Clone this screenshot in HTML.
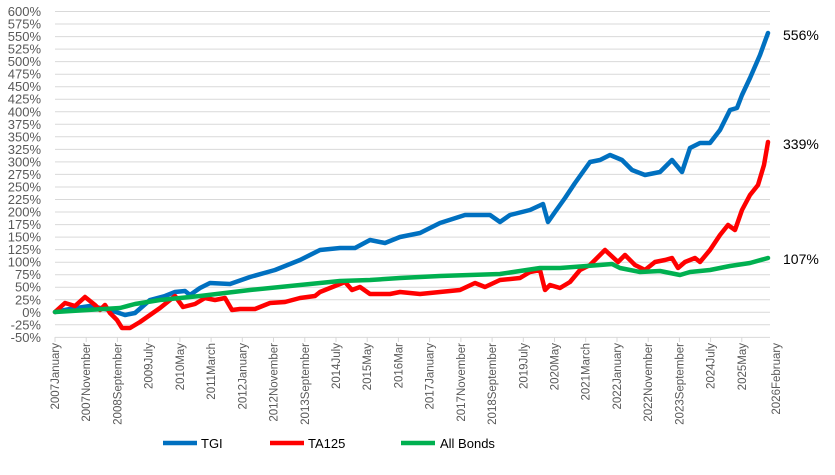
<!DOCTYPE html>
<html><head><meta charset="utf-8"><style>
body{margin:0;background:#fff;}
svg{display:block;font-family:"Liberation Sans",sans-serif;}
</style></head><body>
<svg width="835" height="475" viewBox="0 0 835 475">
<g stroke="#d9d9d9" stroke-width="1">
<line x1="55" x2="770" y1="11.5" y2="11.5"/><line x1="55" x2="770" y1="24" y2="24"/><line x1="55" x2="770" y1="36.6" y2="36.6"/><line x1="55" x2="770" y1="49.1" y2="49.1"/><line x1="55" x2="770" y1="61.6" y2="61.6"/><line x1="55" x2="770" y1="74.2" y2="74.2"/><line x1="55" x2="770" y1="86.7" y2="86.7"/><line x1="55" x2="770" y1="99.2" y2="99.2"/><line x1="55" x2="770" y1="111.8" y2="111.8"/><line x1="55" x2="770" y1="124.3" y2="124.3"/><line x1="55" x2="770" y1="136.8" y2="136.8"/><line x1="55" x2="770" y1="149.4" y2="149.4"/><line x1="55" x2="770" y1="161.9" y2="161.9"/><line x1="55" x2="770" y1="174.4" y2="174.4"/><line x1="55" x2="770" y1="187" y2="187"/><line x1="55" x2="770" y1="199.5" y2="199.5"/><line x1="55" x2="770" y1="212" y2="212"/><line x1="55" x2="770" y1="224.6" y2="224.6"/><line x1="55" x2="770" y1="237.1" y2="237.1"/><line x1="55" x2="770" y1="249.6" y2="249.6"/><line x1="55" x2="770" y1="262.2" y2="262.2"/><line x1="55" x2="770" y1="274.7" y2="274.7"/><line x1="55" x2="770" y1="287.2" y2="287.2"/><line x1="55" x2="770" y1="299.8" y2="299.8"/><line x1="55" x2="770" y1="312.3" y2="312.3"/><line x1="55" x2="770" y1="324.8" y2="324.8"/>
<line x1="55" x2="770" y1="337.4" y2="337.4"/>
<path d="M55 337v5M86.2 337v5M117.4 337v5M148.7 337v5M179.9 337v5M211.1 337v5M242.3 337v5M273.5 337v5M304.8 337v5M336 337v5M367.2 337v5M398.4 337v5M429.6 337v5M460.9 337v5M492.1 337v5M523.3 337v5M554.5 337v5M585.7 337v5M617 337v5M648.2 337v5M679.4 337v5M710.6 337v5M741.8 337v5"/>
</g>
<g font-size="13" fill="#595959" text-anchor="end">
<text x="41" y="16">600%</text><text x="41" y="28.5">575%</text><text x="41" y="41">550%</text><text x="41" y="53.6">525%</text><text x="41" y="66.1">500%</text><text x="41" y="78.7">475%</text><text x="41" y="91.2">450%</text><text x="41" y="103.7">425%</text><text x="41" y="116.3">400%</text><text x="41" y="128.8">375%</text><text x="41" y="141.3">350%</text><text x="41" y="153.9">325%</text><text x="41" y="166.4">300%</text><text x="41" y="178.9">275%</text><text x="41" y="191.5">250%</text><text x="41" y="204">225%</text><text x="41" y="216.5">200%</text><text x="41" y="229.1">175%</text><text x="41" y="241.6">150%</text><text x="41" y="254.1">125%</text><text x="41" y="266.7">100%</text><text x="41" y="279.2">75%</text><text x="41" y="291.7">50%</text><text x="41" y="304.3">25%</text><text x="41" y="316.8">0%</text><text x="41" y="329.3">-25%</text><text x="41" y="341.9">-50%</text>
</g>
<g font-size="11.5" fill="#595959" text-anchor="end">
<text transform="translate(59,343) rotate(-90)">2007January</text>
<text transform="translate(90.2,343) rotate(-90)">2007November</text>
<text transform="translate(121.4,343) rotate(-90)">2008September</text>
<text transform="translate(152.7,343) rotate(-90)">2009July</text>
<text transform="translate(183.9,343) rotate(-90)">2010May</text>
<text transform="translate(215.1,343) rotate(-90)">2011March</text>
<text transform="translate(246.3,343) rotate(-90)">2012January</text>
<text transform="translate(277.5,343) rotate(-90)">2012November</text>
<text transform="translate(308.8,343) rotate(-90)">2013September</text>
<text transform="translate(340,343) rotate(-90)">2014July</text>
<text transform="translate(371.2,343) rotate(-90)">2015May</text>
<text transform="translate(402.4,343) rotate(-90)">2016Mar</text>
<text transform="translate(433.6,343) rotate(-90)">2017January</text>
<text transform="translate(464.9,343) rotate(-90)">2017November</text>
<text transform="translate(496.1,343) rotate(-90)">2018September</text>
<text transform="translate(527.3,343) rotate(-90)">2019July</text>
<text transform="translate(558.5,343) rotate(-90)">2020May</text>
<text transform="translate(589.7,343) rotate(-90)">2021March</text>
<text transform="translate(621,343) rotate(-90)">2022January</text>
<text transform="translate(652.2,343) rotate(-90)">2022November</text>
<text transform="translate(683.4,343) rotate(-90)">2023September</text>
<text transform="translate(714.6,343) rotate(-90)">2024July</text>
<text transform="translate(745.8,343) rotate(-90)">2025May</text>
<text transform="translate(780,343) rotate(-90)">2026February</text>
</g>
<g fill="none" stroke-width="4.5" stroke-linejoin="round" stroke-linecap="round">
<polyline stroke="#0070C0" points="55,312 70,309 90,306 110,310 125,315 135,313 150,300 165,296 175,292 185,291 190,295 200,288 210,283 230,284 250,277 275,270 300,260 320,250 340,248 355,248 370,240 385,243 400,237 420,233 440,223 465,215 490,215 500,222 510,215 530,210 543,204 548,222 555,212 565,198 575,183 590,162 600,160 610,155 622,160 632,170 645,175 660,172 672,160 682,172 690,148 700,143 710,143 720,130 730,110 737,108 742,95 750,78 760,55 768,33"/>
<polyline stroke="#FF0000" points="55,312 65,303 75,306 85,297 95,305 100,310 105,305 110,313 117,320 122,328 130,328 140,322 150,315 160,308 170,300 175,296 183,307 195,304 205,298 215,300 225,298 232,310 240,309 255,309 270,303 285,302 300,298 315,296 320,292 330,288 345,282 352,290 360,287 370,294 390,294 400,292 420,294 440,292 460,290 475,283 485,287 500,280 520,278 530,272 540,270 545,290 550,285 560,288 570,282 580,270 590,265 605,250 618,262 625,255 635,265 645,270 655,262 665,260 672,258 678,268 685,262 695,258 700,262 710,250 720,235 728,225 735,230 742,210 750,195 758,185 764,165 768,142"/>
<polyline stroke="#00B050" points="55,312 120,308 135,304 160,300 200,296 250,290 300,285 340,281 370,280 400,278 440,276 470,275 500,274 540,268 560,268 600,265 612,264 620,268 640,272 660,271 680,275 690,272 710,270 730,266 750,263 768,258"/>
</g>
<g font-size="14" fill="#000">
<text x="783" y="40">556%</text><text x="783" y="149">339%</text><text x="783" y="264">107%</text>
</g>
<g stroke-width="4.5">
<line x1="163" x2="197" y1="443" y2="443" stroke="#0070C0"/>
<line x1="270" x2="304" y1="443" y2="443" stroke="#FF0000"/>
<line x1="401" x2="435" y1="443" y2="443" stroke="#00B050"/>
</g>
<g font-size="13" fill="#000">
<text x="201" y="448">TGI</text><text x="308" y="448">TA125</text><text x="440" y="448">All Bonds</text>
</g>
</svg>
</body></html>
